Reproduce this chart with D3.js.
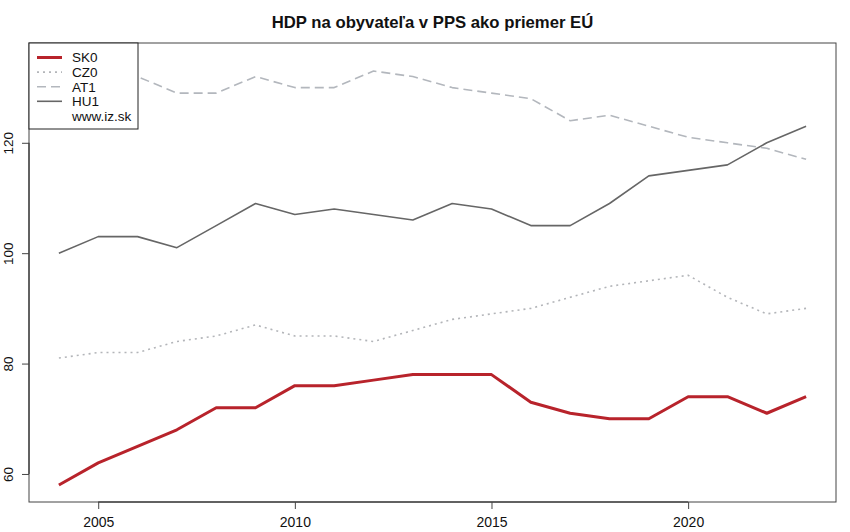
<!DOCTYPE html>
<html><head><meta charset="utf-8">
<script src="https://cdn.jsdelivr.net/npm/d3@7"></script>
<style>body{margin:0;background:#fff}svg{display:block;font-family:"Liberation Sans",Arial,sans-serif}</style>
</head><body><svg id="c" width="850" height="532"></svg>
<script>
const years = d3.range(2004, 2024);
const SK0 = [58,62,65,68,72,72,76,76,77,78,78,78,73,71,70,70,74,74,71,74];
const CZ0 = [81,82,82,84,85,87,85,85,84,86,88,89,90,92,94,95,96,92,89,90];
const AT1 = [135,134,132,129,129,132,130,130,133,132,130,129,128,124,125,123,121,120,119,117];
const HU1 = [100,103,103,101,105,109,107,108,107,106,109,108,105,105,109,114,115,116,120,123];
const xTicks = [2005,2010,2015,2020];
const yTicks = [60,80,100,120];
const title = "HDP na obyvateľa v PPS ako priemer EÚ";
const legendLabels = ["SK0","CZ0","AT1","HU1","www.iz.sk"];

const svg = d3.select("#c");
const L=29,R=836,T=43,B=502;
const allY = SK0.concat(CZ0,AT1,HU1);
const ymin=d3.min(allY), ymax=d3.max(allY);
const yr=ymax-ymin, xr=2023-2004;
const x = d3.scaleLinear().domain([2004-0.04*xr,2023+0.04*xr]).range([L,R]);
const y = d3.scaleLinear().domain([ymin-0.04*yr,ymax+0.04*yr]).range([B,T]);

const series = [
  {name:"SK0", data:SK0, color:"#b8232b", w:3, dash:null},
  {name:"CZ0", data:CZ0, color:"#b3b5b9", w:1.6, dash:"2,4"},
  {name:"AT1", data:AT1, color:"#b3b7bd", w:1.6, dash:"9,5"},
  {name:"HU1", data:HU1, color:"#666666", w:1.6, dash:null}
];
const line = d3.line().x((d,i)=>x(years[i])).y(d=>y(d));
[1,2,3,0].forEach(k=>{
  const s=series[k];
  svg.append("path").attr("d",line(s.data)).attr("fill","none")
    .attr("stroke",s.color).attr("stroke-width",s.w)
    .attr("stroke-dasharray",s.dash).attr("stroke-linejoin","round");
});

svg.append("rect").attr("x",L).attr("y",T).attr("width",R-L).attr("height",B-T)
  .attr("fill","none").attr("stroke","#444").attr("stroke-width",1);

const xa = svg.append("g").attr("transform",`translate(0,${B})`)
  .call(d3.axisBottom(x).tickValues(xTicks).tickFormat(d3.format("d")).tickSizeOuter(0).tickSize(7).tickPadding(8));
xa.select(".domain").attr("d",`M${x(xTicks[0])},0H${x(xTicks[xTicks.length-1])}`).attr("stroke","#222");
xa.selectAll("text").attr("font-size",14).attr("fill","#111").attr("font-family","Liberation Sans, Arial, sans-serif");
xa.selectAll("line").attr("stroke","#444");

const ya = svg.append("g").attr("transform",`translate(${L},0)`)
  .call(d3.axisLeft(y).tickValues(yTicks).tickSizeOuter(0).tickSize(7).tickFormat(d3.format("d")));
ya.select(".domain").attr("d",`M0,${y(yTicks[0])}V${y(yTicks[yTicks.length-1])}`).attr("stroke","#222");
ya.selectAll("line").attr("stroke","#444");
ya.selectAll("text").remove();
ya.selectAll(".tick").append("text").attr("transform","translate(-21,0) rotate(-90)")
  .attr("text-anchor","middle").attr("dy","0.35em").attr("font-size",13.5).attr("fill","#111")
  .text(d=>d);

svg.append("text").attr("x",(L+R)/2).attr("y",28).attr("text-anchor","middle")
  .attr("font-weight","bold").attr("font-size",16.7).attr("fill","#111").text(title);

const lg = svg.append("g");
lg.append("rect").attr("x",L).attr("y",T).attr("width",109).attr("height",86)
  .attr("fill","#fff").attr("stroke","#222").attr("stroke-width",1);
legendLabels.forEach((t,i)=>{
  const yy = 57.5 + i*14.6;
  if(i<4){
    const s=series[i];
    lg.append("line").attr("x1",37).attr("x2",62).attr("y1",yy).attr("y2",yy)
      .attr("stroke",s.color).attr("stroke-width",s.w).attr("stroke-dasharray",s.dash);
  }
  lg.append("text").attr("x",72).attr("y",yy).attr("dy","0.36em").attr("font-size",13.5)
    .attr("fill","#111").text(t);
});
</script></body></html>
